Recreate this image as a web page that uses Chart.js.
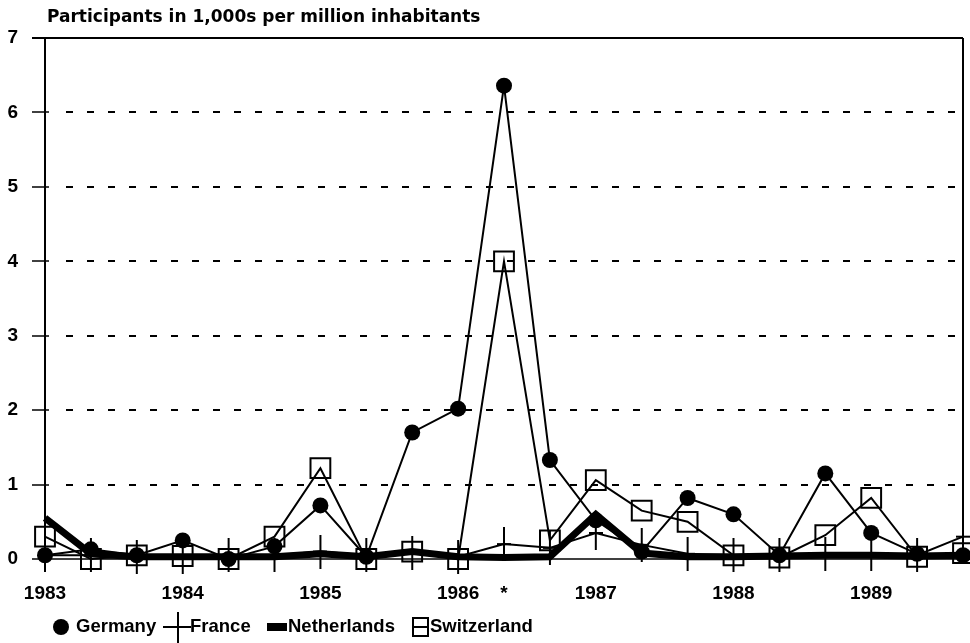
<!DOCTYPE html>
<html><head><meta charset="utf-8">
<script src="https://cdn.jsdelivr.net/npm/chart.js@4.4.0/dist/chart.umd.min.js"></script>
<style>html,body{margin:0;padding:0;background:#fff;}#wrap{width:970px;height:643px;position:relative;}</style>
</head><body><div id="wrap"><canvas id="c" width="970" height="643"></canvas></div>
<script>
const xLabels = ['1983','','','1984','','','1985','','','1986','*','','1987','','','1988','','','1989','',''];
const germany     = [0.05,0.13,0.05,0.25,0.00,0.17,0.72,0.03,1.70,2.02,6.36,1.33,0.52,0.10,0.82,0.60,0.05,1.15,0.35,0.07,0.05];
const france      = [0.05,0.05,0.03,0.03,0.05,0.05,0.10,0.05,0.08,0.03,0.20,0.15,0.35,0.19,0.07,0.05,0.05,0.07,0.07,0.05,0.30];
const netherlands = [0.55,0.07,0.03,0.03,0.03,0.03,0.07,0.03,0.10,0.03,0.02,0.03,0.60,0.08,0.03,0.03,0.04,0.05,0.05,0.04,0.05];
const switzerland = [0.30,0.00,0.05,0.04,0.00,0.30,1.22,0.00,0.10,0.00,4.00,0.25,1.06,0.65,0.50,0.05,0.02,0.32,0.82,0.03,0.08];
const yTicks = [0,1,2,3,4,5,6,7];
const titleText = 'Participants in 1,000s per million inhabitants';
const legendNames = ['Germany','France','Netherlands','Switzerland'];

const LEG = 'bold 18.5px "Liberation Sans", Arial, sans-serif';

// France marker: cross with a long vertical arm
const crossImg = document.createElement('canvas');
crossImg.width = 14; crossImg.height = 34;
(function(){
  const g = crossImg.getContext('2d');
  g.strokeStyle = '#000'; g.lineWidth = 2;
  g.beginPath(); g.moveTo(0,17); g.lineTo(14,17); g.moveTo(7,0); g.lineTo(7,34); g.stroke();
})();

const frame = {
  id: 'frame',
  beforeDatasetsDraw(chart){
    const {ctx, chartArea:a, scales:{y}} = chart;
    ctx.save();
    ctx.strokeStyle = '#000';
    ctx.lineWidth = 2; ctx.setLineDash([7,14]);
    for (const v of yTicks){
      if (v === 0 || v === 7) continue;
      const py = Math.round(y.getPixelForValue(v));
      ctx.beginPath(); ctx.moveTo(a.left+21, py); ctx.lineTo(a.right-6, py); ctx.stroke();
    }
    ctx.setLineDash([]);
    ctx.lineWidth = 1.5;
    for (const v of yTicks){
      const py = Math.round(y.getPixelForValue(v));
      ctx.beginPath(); ctx.moveTo(a.left-13, py); ctx.lineTo(a.left+4, py); ctx.stroke();
    }
    ctx.lineWidth = 2;
    ctx.beginPath(); ctx.moveTo(a.left-13, a.top); ctx.lineTo(a.right, a.top); ctx.stroke();
    ctx.beginPath();
    ctx.moveTo(a.left, a.top); ctx.lineTo(a.left, a.bottom);
    ctx.moveTo(a.right, a.top); ctx.lineTo(a.right, a.bottom);
    ctx.stroke();
    ctx.lineWidth = 1.5;
    ctx.beginPath(); ctx.moveTo(a.left, a.bottom); ctx.lineTo(a.right, a.bottom); ctx.stroke();
    ctx.restore();
  },
  afterDraw(chart){
    const ctx = chart.ctx;
    ctx.save();
    ctx.fillStyle = '#000'; ctx.strokeStyle = '#000';
    ctx.font = 'bold 17px "DejaVu Sans", sans-serif';
    ctx.textBaseline = 'middle'; ctx.textAlign = 'left';
    ctx.fillText(titleText, 47, 18);
    // legend
    const ly = 627;
    ctx.font = LEG;
    ctx.beginPath(); ctx.arc(61, ly, 8, 0, Math.PI*2); ctx.fill();
    ctx.fillText(legendNames[0], 76, ly);
    ctx.lineWidth = 2;
    ctx.beginPath(); ctx.moveTo(163, ly); ctx.lineTo(191, ly); ctx.moveTo(178, ly-15); ctx.lineTo(178, ly+16); ctx.stroke();
    ctx.fillText(legendNames[1], 190, ly);
    ctx.fillRect(267, ly-4, 20, 8);
    ctx.fillText(legendNames[2], 288, ly);
    ctx.strokeRect(413, ly-9, 15, 18);
    ctx.beginPath(); ctx.moveTo(413, ly); ctx.lineTo(428, ly); ctx.stroke();
    ctx.fillText(legendNames[3], 430, ly);
    ctx.restore();
  }
};

const common = {borderColor:'#000', tension:0, clip:false, fill:false};
new Chart(document.getElementById('c'), {
  type: 'line',
  data: {
    labels: xLabels,
    datasets: [
      Object.assign({label:legendNames[0], data:germany, borderWidth:2, pointStyle:'circle', pointRadius:8,
        pointBackgroundColor:'#000', pointBorderColor:'#000', pointBorderWidth:0}, common),
      Object.assign({label:legendNames[1], data:france, borderWidth:2, pointStyle:crossImg, pointRadius:8}, common),
      Object.assign({label:legendNames[2], data:netherlands, borderWidth:7, pointRadius:0, borderJoinStyle:'miter'}, common),
      Object.assign({label:legendNames[3], data:switzerland, borderWidth:2, pointStyle:'rect', pointRadius:14,
        pointBackgroundColor:'rgba(0,0,0,0)', pointBorderColor:'#000', pointBorderWidth:2}, common)
    ]
  },
  options: {
    responsive:false, animation:false, devicePixelRatio:1,
    layout:{autoPadding:false, padding:{left:0, right:7, top:38, bottom:0}},
    plugins:{legend:{display:false}, title:{display:false}, tooltip:{enabled:false}},
    scales:{
      x:{type:'category', offset:false,
        grid:{display:false, drawTicks:false}, border:{display:false},
        ticks:{autoSkip:false, maxRotation:0, minRotation:0, color:'#000', font:{family:'"Liberation Sans", Arial, sans-serif', size:19, weight:'bold'}, padding:23},
        afterFit(s){ s.height = 84; s.paddingLeft = 0; s.paddingRight = 0; }
      },
      y:{min:0, max:7,
        grid:{display:false, drawTicks:false}, border:{display:false},
        ticks:{stepSize:1, color:'#000', font:{family:'"Liberation Sans", Arial, sans-serif', size:19, weight:'bold'}, padding:27},
        afterFit(s){ s.width = 45; s.paddingTop = 0; s.paddingBottom = 0; }
      }
    }
  },
  plugins:[frame]
});
</script></body></html>
